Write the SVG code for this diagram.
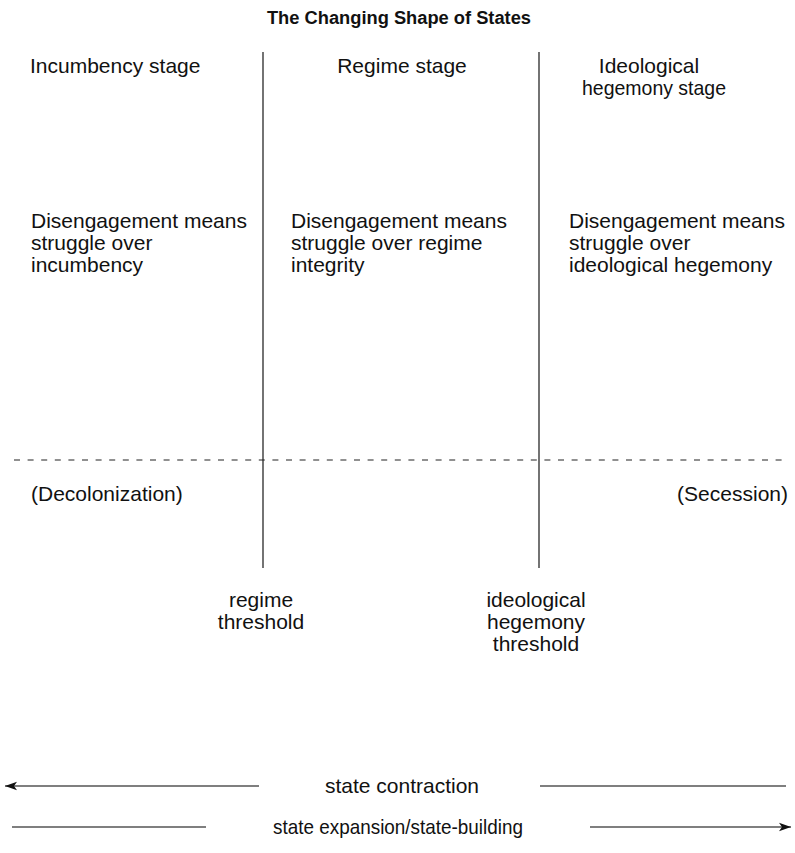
<svg xmlns="http://www.w3.org/2000/svg" width="795" height="853" viewBox="0 0 795 853">
<style>
text{font-family:"Liberation Sans",Arial,sans-serif;font-size:21px;fill:#111}
.title{font-weight:bold;font-size:18.3px}
.mid{text-anchor:middle}
.end{text-anchor:end}
.ln{stroke:#000;stroke-width:1.1;fill:none}
.dash{stroke:#222;stroke-width:1.1;stroke-dasharray:6 7.6}
</style>
<defs>
<marker id="ah" markerWidth="13" markerHeight="10" refX="12" refY="5" orient="auto" markerUnits="userSpaceOnUse">
<path d="M0,0.8 L12,5 L0,9.2 L3,5 Z" fill="#111"/>
</marker>
</defs>
<rect width="795" height="853" fill="#fff"/>
<g id="title"><text class="title mid" x="399" y="24">The Changing Shape of States</text></g>
<g id="connectors">
<line class="ln" x1="263" y1="52" x2="263" y2="568"/>
<line class="ln" x1="539" y1="52" x2="539" y2="568"/>
<line class="dash" x1="14" y1="460" x2="786" y2="460"/>
<line class="ln" x1="259" y1="786" x2="5" y2="786" marker-end="url(#ah)"/>
<line class="ln" x1="540" y1="786" x2="786" y2="786"/>
<line class="ln" x1="12" y1="827" x2="206" y2="827"/>
<line class="ln" x1="590" y1="827" x2="791" y2="827" marker-end="url(#ah)"/>
</g>
<g id="incumbency-stage"><text x="30" y="73">Incumbency stage</text></g>
<g id="regime-stage"><text class="mid" x="402" y="73">Regime stage</text></g>
<g id="ideological-stage"><text class="mid" x="649" y="73">Ideological</text><text class="mid" x="654" y="95" textLength="144" lengthAdjust="spacingAndGlyphs">hegemony stage</text></g>
<g id="incumbency-struggle"><text x="31" y="228">Disengagement means<tspan x="31" dy="22">struggle over</tspan><tspan x="31" dy="22">incumbency</tspan></text></g>
<g id="regime-struggle"><text x="291" y="228">Disengagement means<tspan x="291" dy="22">struggle over regime</tspan><tspan x="291" dy="22">integrity</tspan></text></g>
<g id="ideological-struggle"><text x="569" y="228">Disengagement means<tspan x="569" dy="22">struggle over</tspan><tspan x="569" dy="22">ideological hegemony</tspan></text></g>
<g id="decolonization"><text x="31" y="501">(Decolonization)</text></g>
<g id="secession"><text class="end" x="788" y="501">(Secession)</text></g>
<g id="regime-threshold"><text class="mid" x="261" y="607">regime<tspan x="261" dy="22">threshold</tspan></text></g>
<g id="ideological-threshold"><text class="mid" x="536" y="607">ideological<tspan x="536" dy="22">hegemony</tspan><tspan x="536" dy="22">threshold</tspan></text></g>
<g id="state-contraction"><text class="mid" x="402" y="793">state contraction</text></g>
<g id="state-expansion"><text class="mid" x="398" y="834" textLength="250" lengthAdjust="spacingAndGlyphs">state expansion/state-building</text></g>
</svg>
